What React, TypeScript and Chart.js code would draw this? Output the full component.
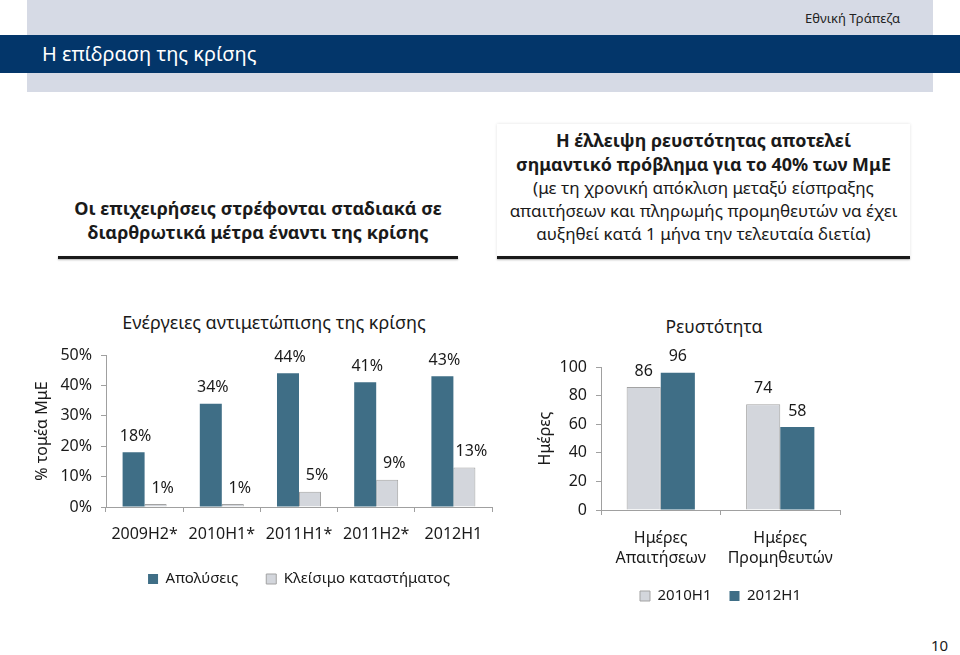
import React, { useEffect, useRef } from 'react';
import { Chart, registerables } from 'chart.js';

Chart.register(...registerables);

const FONT = "'Noto Sans', 'DejaVu Sans', sans-serif";

// Left chart data
const crisisCategories = ['2009H2*', '2010H1*', '2011H1*', '2011H2*', '2012H1'];
const layoffs = [18, 34, 44, 41, 43];
const storeClosures = [1, 1, 5, 9, 13];
const crisisSeriesNames = ['Απολύσεις', 'Κλείσιμο καταστήματος'];

// Right chart data
const liquidityCategories = [
  ['Ημέρες', 'Απαιτήσεων'],
  ['Ημέρες', 'Προμηθευτών'],
];
const liquidity2010H1 = [86, 74];
const liquidity2012H1 = [96, 58];
const liquiditySeriesNames = ['2010H1', '2012H1'];

const DARK = '#3F6E86';
const LIGHT = '#D3D6DC';
const LIGHT_BORDER = '#A3A3A3';
const AXIS = '#A0A0A0';
const TEXT = '#1a1a1a';

function makeValueLabels(suffix: string, dxs: number[], dy: number, size: number) {
  return {
    id: 'valueLabels',
    afterDatasetsDraw(chart: any) {
      const ctx = chart.ctx;
      ctx.save();
      ctx.font = `${size}px ${FONT}`;
      ctx.fillStyle = TEXT;
      ctx.textAlign = 'center';
      ctx.textBaseline = 'middle';
      chart.data.datasets.forEach((ds: any, i: number) => {
        const meta = chart.getDatasetMeta(i);
        meta.data.forEach((el: any, j: number) => {
          ctx.fillText(`${ds.data[j]}${suffix}`, el.x + (dxs[i] || 0), el.y - dy);
        });
      });
      ctx.restore();
    },
  };
}

function CrisisChart() {
  const ref = useRef<HTMLCanvasElement>(null);
  useEffect(() => {
    if (!ref.current) return;
    const chart = new Chart(ref.current, {
      type: 'bar',
      data: {
        labels: crisisCategories,
        datasets: [
          {
            label: crisisSeriesNames[0],
            data: layoffs,
            backgroundColor: DARK,
            borderColor: DARK,
            borderWidth: 0,
            categoryPercentage: 0.57,
            barPercentage: 1.0,
          },
          {
            label: crisisSeriesNames[1],
            data: storeClosures,
            backgroundColor: LIGHT,
            borderColor: LIGHT_BORDER,
            borderWidth: 1,
            categoryPercentage: 0.57,
            barPercentage: 1.0,
          },
        ],
      },
      options: {
        responsive: false,
        animation: false,
        layout: { padding: { top: 55, right: 8, left: 0, bottom: 3.5 } },
        scales: {
          x: {
            grid: { drawOnChartArea: false, tickLength: 5, color: AXIS, offset: true },
            border: { color: AXIS },
            ticks: { font: { size: 16, family: FONT }, color: TEXT, padding: 13, maxRotation: 0 },
            afterFit: (s: any) => {
              s.height = 36.5;
            },
          },
          y: {
            min: 0,
            max: 50,
            ticks: {
              stepSize: 10,
              font: { size: 16, family: FONT },
              color: TEXT,
              padding: 9,
              callback: (v: any) => `${v}%`,
            },
            grid: { drawOnChartArea: false, tickLength: 5, color: AXIS },
            border: { color: AXIS },
            title: {
              display: true,
              text: '% τομέα ΜμΕ',
              font: { size: 16, family: FONT },
              color: TEXT,
              padding: { top: 33, bottom: 0 },
            },
            afterFit: (s: any) => {
              s.width = 106;
            },
          },
        },
        plugins: {
          title: { display: false },
          tooltip: { enabled: false },
          legend: {
            position: 'bottom',
            fullSize: false,
            labels: {
              boxWidth: 10,
              boxHeight: 10,
              padding: 28,
              font: { size: 15, family: FONT },
              color: TEXT,
            },
          },
        },
      } as any,
      plugins: [makeValueLabels('%', [2, 7], 16, 16)],
    });
    return () => chart.destroy();
  }, []);
  return <canvas ref={ref} width={500} height={300} style={{ position: 'absolute', left: 0, top: 300 }} />;
}

function LiquidityChart() {
  const ref = useRef<HTMLCanvasElement>(null);
  useEffect(() => {
    if (!ref.current) return;
    const chart = new Chart(ref.current, {
      type: 'bar',
      data: {
        labels: liquidityCategories as any,
        datasets: [
          {
            label: liquiditySeriesNames[0],
            data: liquidity2010H1,
            backgroundColor: LIGHT,
            borderColor: LIGHT_BORDER,
            borderWidth: 1,
            categoryPercentage: 0.571,
            barPercentage: 1.0,
          },
          {
            label: liquiditySeriesNames[1],
            data: liquidity2012H1,
            backgroundColor: DARK,
            borderColor: DARK,
            borderWidth: 0,
            categoryPercentage: 0.571,
            barPercentage: 1.0,
          },
        ],
      },
      options: {
        responsive: false,
        animation: false,
        layout: { padding: { top: 67, right: 120, left: 0, bottom: 6.5 } },
        scales: {
          x: {
            grid: { drawOnChartArea: false, tickLength: 5, color: AXIS, offset: true },
            border: { color: AXIS },
            ticks: {
              font: { size: 16, family: FONT, lineHeight: 1.3 },
              color: TEXT,
              padding: 12.6,
              maxRotation: 0,
            },
            afterFit: (s: any) => {
              s.height = 60.5;
            },
          },
          y: {
            min: 0,
            max: 100,
            ticks: {
              stepSize: 20,
              font: { size: 16, family: FONT },
              color: TEXT,
              padding: 9,
            },
            grid: { drawOnChartArea: false, tickLength: 5, color: AXIS },
            border: { color: AXIS },
            title: {
              display: true,
              text: 'Ημέρες',
              font: { size: 16, family: FONT },
              color: TEXT,
              padding: { top: 15.4, bottom: 0 },
            },
            afterFit: (s: any) => {
              s.width = 81;
            },
          },
        },
        plugins: {
          title: { display: false },
          tooltip: { enabled: false },
          legend: {
            position: 'bottom',
            fullSize: false,
            labels: {
              boxWidth: 10,
              boxHeight: 10,
              padding: 18,
              font: { size: 15, family: FONT },
              color: TEXT,
            },
          },
        },
      } as any,
      plugins: [makeValueLabels('', [0, 0], 16, 16)],
    });
    return () => chart.destroy();
  }, []);
  return <canvas ref={ref} width={440} height={320} style={{ position: 'absolute', left: 520, top: 300 }} />;
}

const lineStyle = (top: number, extra: React.CSSProperties = {}): React.CSSProperties => ({
  position: 'absolute',
  top,
  left: -20,
  right: -20,
  textAlign: 'center',
  whiteSpace: 'nowrap',
  lineHeight: '24px',
  ...extra,
});

export default function App() {
  return (
    <div
      style={{
        position: 'absolute',
        left: 0,
        top: 0,
        width: 960,
        height: 655,
        background: '#ffffff',
        overflow: 'hidden',
        fontFamily: FONT,
        color: TEXT,
      }}
    >
      {/* header */}
      <div style={{ position: 'absolute', left: 27, top: 0, width: 906, height: 92, background: '#D6DAE5' }} />
      <div style={{ position: 'absolute', left: 0, top: 35, width: 960, height: 38, background: '#03366A' }} />
      <div style={{ position: 'absolute', right: 60, top: 8, fontSize: 13, lineHeight: '20px', color: '#222' }}>
        Εθνική Τράπεζα
      </div>
      <div style={{ position: 'absolute', left: 42, top: 40, fontSize: 20, lineHeight: '28px', color: '#ffffff' }}>
        Η επίδραση της κρίσης
      </div>

      {/* left heading */}
      <div style={{ position: 'absolute', left: 58, top: 196, width: 400, height: 60, fontWeight: 700, fontSize: 18 }}>
        <div style={lineStyle(0)}>Οι επιχειρήσεις στρέφονται σταδιακά σε</div>
        <div style={lineStyle(24)}>διαρθρωτικά μέτρα έναντι της κρίσης</div>
      </div>
      <div style={{ position: 'absolute', left: 58, top: 256, width: 400, height: 3, background: '#1a1a1a', boxShadow: '0 1px 2px rgba(0,0,0,0.3)' }} />

      {/* right heading box */}
      <div
        style={{
          position: 'absolute',
          left: 497,
          top: 124,
          width: 413,
          height: 133,
          background: '#ffffff',
          boxShadow: '0 0 3px rgba(0,0,0,0.12)',
        }}
      >
        <div style={lineStyle(4, { fontWeight: 700, fontSize: 17.9 })}>Η έλλειψη ρευστότητας αποτελεί</div>
        <div style={lineStyle(28, { fontWeight: 700, fontSize: 17.9 })}>σημαντικό πρόβλημα για το 40% των ΜμΕ</div>
        <div style={lineStyle(52, { fontSize: 17 })}>(με τη χρονική απόκλιση μεταξύ είσπραξης</div>
        <div style={lineStyle(75, { fontSize: 17 })}>απαιτήσεων και πληρωμής προμηθευτών να έχει</div>
        <div style={lineStyle(98, { fontSize: 17 })}>αυξηθεί κατά 1 μήνα την τελευταία διετία)</div>
      </div>
      <div style={{ position: 'absolute', left: 497, top: 256, width: 413, height: 3, background: '#1a1a1a', boxShadow: '0 1px 2px rgba(0,0,0,0.3)' }} />

      {/* chart titles */}
      <div style={{ position: 'absolute', left: 74, top: 310, width: 400, textAlign: 'center', fontSize: 18, lineHeight: '24px', whiteSpace: 'nowrap' }}>
        Ενέργειες αντιμετώπισης της κρίσης
      </div>
      <div style={{ position: 'absolute', left: 614, top: 314, width: 200, textAlign: 'center', fontSize: 17.5, lineHeight: '24px', whiteSpace: 'nowrap' }}>
        Ρευστότητα
      </div>

      <CrisisChart />
      <LiquidityChart />

      <div style={{ position: 'absolute', left: 931, top: 635, fontSize: 15, lineHeight: '20px' }}>10</div>
    </div>
  );
}
